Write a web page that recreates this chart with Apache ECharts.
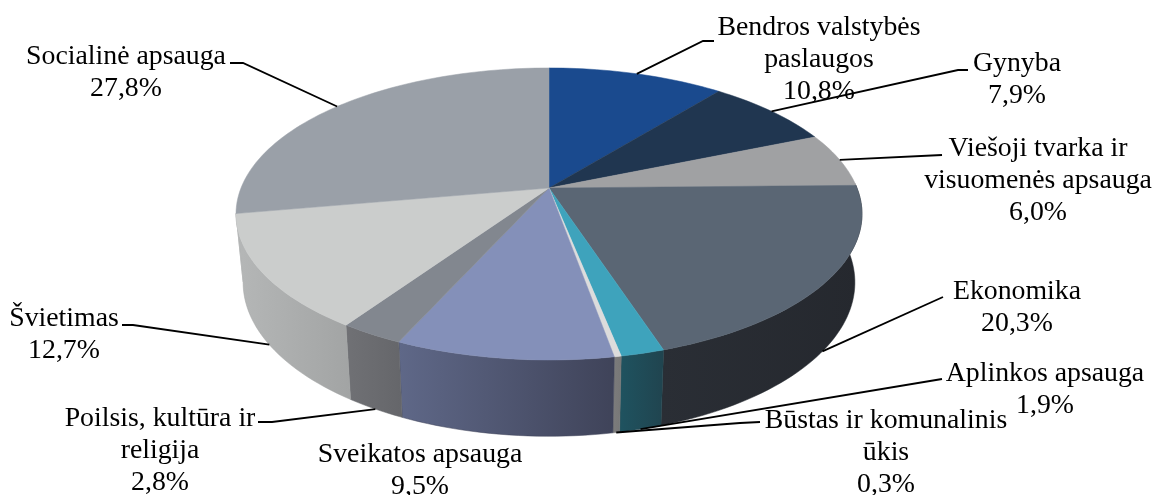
<!DOCTYPE html>
<html>
<head>
<meta charset="utf-8">
<style>
    html, body { margin: 0; padding: 0; background: #fff; }
    #chart { width: 1155px; height: 495px; }
</style>
<script src="https://cdn.jsdelivr.net/npm/echarts@6/dist/echarts.min.js"></script>
</head>
<body>
<div id="chart"></div>
<script>
    const categories = ['Bendros valstybės\npaslaugos', 'Gynyba', 'Viešoji tvarka ir\nvisuomenės apsauga', 'Ekonomika',
        'Aplinkos apsauga', 'Būstas ir komunalinis\nūkis', 'Sveikatos apsauga', 'Poilsis, kultūra ir\nreligija',
        'Švietimas', 'Socialinė apsauga'];
    const shares = [10.8, 7.9, 6.0, 20.3, 1.9, 0.3, 9.5, 2.8, 12.7, 27.8];

    const topColors = ['#1a4a8e', '#203650', '#a0a1a3', '#5a6674', '#3ea3bc', '#dcdcdc', '#8490b9', '#82878f', '#cbcdcc', '#9aa0a8'];
    const wallColors = [
        ['#1a4a8e', '#1a4a8e'], ['#203650', '#203650'], ['#a0a1a3', '#a0a1a3'], ['#2a2e35', '#25282e'],
        ['#1f5360', '#20444f'], ['#7c7c7c', '#777777'], ['#5f6888', '#3f4359'], ['#707175', '#65666a'],
        ['#b5b7b7', '#a2a4a4'], ['#b5b7b7', '#b5b7b7']
    ];

    // label centre, then the elbow points of the leader (the start is worked out from the slice)
    const labelCentres = [[819, 60], [1017, 80], [1038, 181], [1017, 308], [1045, 390], [886, 453], [420, 471], [160, 451], [64, 335], [126, 73]];
    const leaderElbows = [
        [[703, 41], [714, 41]], [[958, 70], [968, 70]], [[942, 155]], [[943, 297]], [[942, 379]],
        [[740, 423], [760, 422]], null, [[272, 422], [258, 422]], [[133, 325], [122, 325]], [[243, 63], [230, 63]]
    ];

    // perspective of the pie plane
    const cx = 549, cy = 188, persp = 0.178;
    const topA = 308, topB = 141.4;
    const botA = 301, botB = 149, depth = 67;

    const total = shares.reduce((a, b) => a + b, 0);
    const starts = [];
    shares.reduce((sum, v, i) => { starts[i] = sum; return sum + v; }, 0);

    function project(deg, a, b, dy) {
        const rad = deg * Math.PI / 180;
        const u = Math.sin(rad), v = -Math.cos(rad);
        const den = 1 - persp * v;
        return [cx + a * u / den, cy + dy + b * v / den];
    }
    const topPoint = (deg) => project(deg, topA, topB, 0);
    const botPoint = (deg) => project(deg, botA, botB, depth);

    function sweep(from, to) {
        const list = [];
        const n = Math.max(2, Math.ceil((to - from) / 1.5));
        for (let k = 0; k <= n; k++) list.push(from + (to - from) * k / n);
        return list;
    }
    const startDeg = (i) => starts[i] / total * 360;
    const endDeg = (i) => (starts[i] + shares[i]) / total * 360;

    const renderWall = (params) => {
        const i = params.dataIndex;
        const from = Math.max(startDeg(i), 88), to = Math.min(endDeg(i), 260);
        if (to <= from) return { type: 'group', children: [] };
        const angles = sweep(from, to);
        const points = angles.map(topPoint).concat(angles.slice().reverse().map(botPoint));
        const fill = new echarts.graphic.LinearGradient(0, 0, 1, 0, [
            { offset: 0, color: wallColors[i][0] }, { offset: 1, color: wallColors[i][1] }
        ]);
        return { type: 'polygon', shape: { points: points }, style: { fill: fill, stroke: wallColors[i][1], lineWidth: 0.5 } };
    };

    const renderTop = (params) => {
        const i = params.dataIndex;
        const points = [[cx, cy]].concat(sweep(startDeg(i), endDeg(i)).map(topPoint));
        return { type: 'polygon', shape: { points: points }, style: { fill: topColors[i], stroke: topColors[i], lineWidth: 0.5 } };
    };

    const renderLabel = (params) => {
        const i = params.dataIndex;
        const children = [{
            type: 'text',
            style: {
                x: labelCentres[i][0], y: labelCentres[i][1],
                text: categories[i] + '\n' + shares[i].toFixed(1).replace('.', ',') + '%',
                fill: '#000', align: 'center', verticalAlign: 'middle',
                font: '27.8px "Liberation Serif"', lineHeight: 32
            }
        }];
        if (leaderElbows[i]) {
            const mid = (startDeg(i) + endDeg(i)) / 2;
            const front = Math.cos(mid * Math.PI / 180) < 0;
            const start = front ? botPoint(mid) : topPoint(mid);
            children.push({
                type: 'polyline',
                shape: { points: [start].concat(leaderElbows[i]) },
                style: { stroke: '#000', lineWidth: 1.8, fill: null }
            });
        }
        return { type: 'group', children: children };
    };

    const chart = echarts.init(document.getElementById('chart'));
    chart.setOption({
        backgroundColor: '#fff',
        animation: false,
        series: [
            { type: 'custom', coordinateSystem: 'none', silent: true, z: 1, data: shares, renderItem: renderWall },
            { type: 'custom', coordinateSystem: 'none', silent: true, z: 2, data: shares, renderItem: renderTop },
            { type: 'custom', coordinateSystem: 'none', silent: true, z: 3, data: shares, renderItem: renderLabel }
        ]
    });
</script>
</body>
</html>
